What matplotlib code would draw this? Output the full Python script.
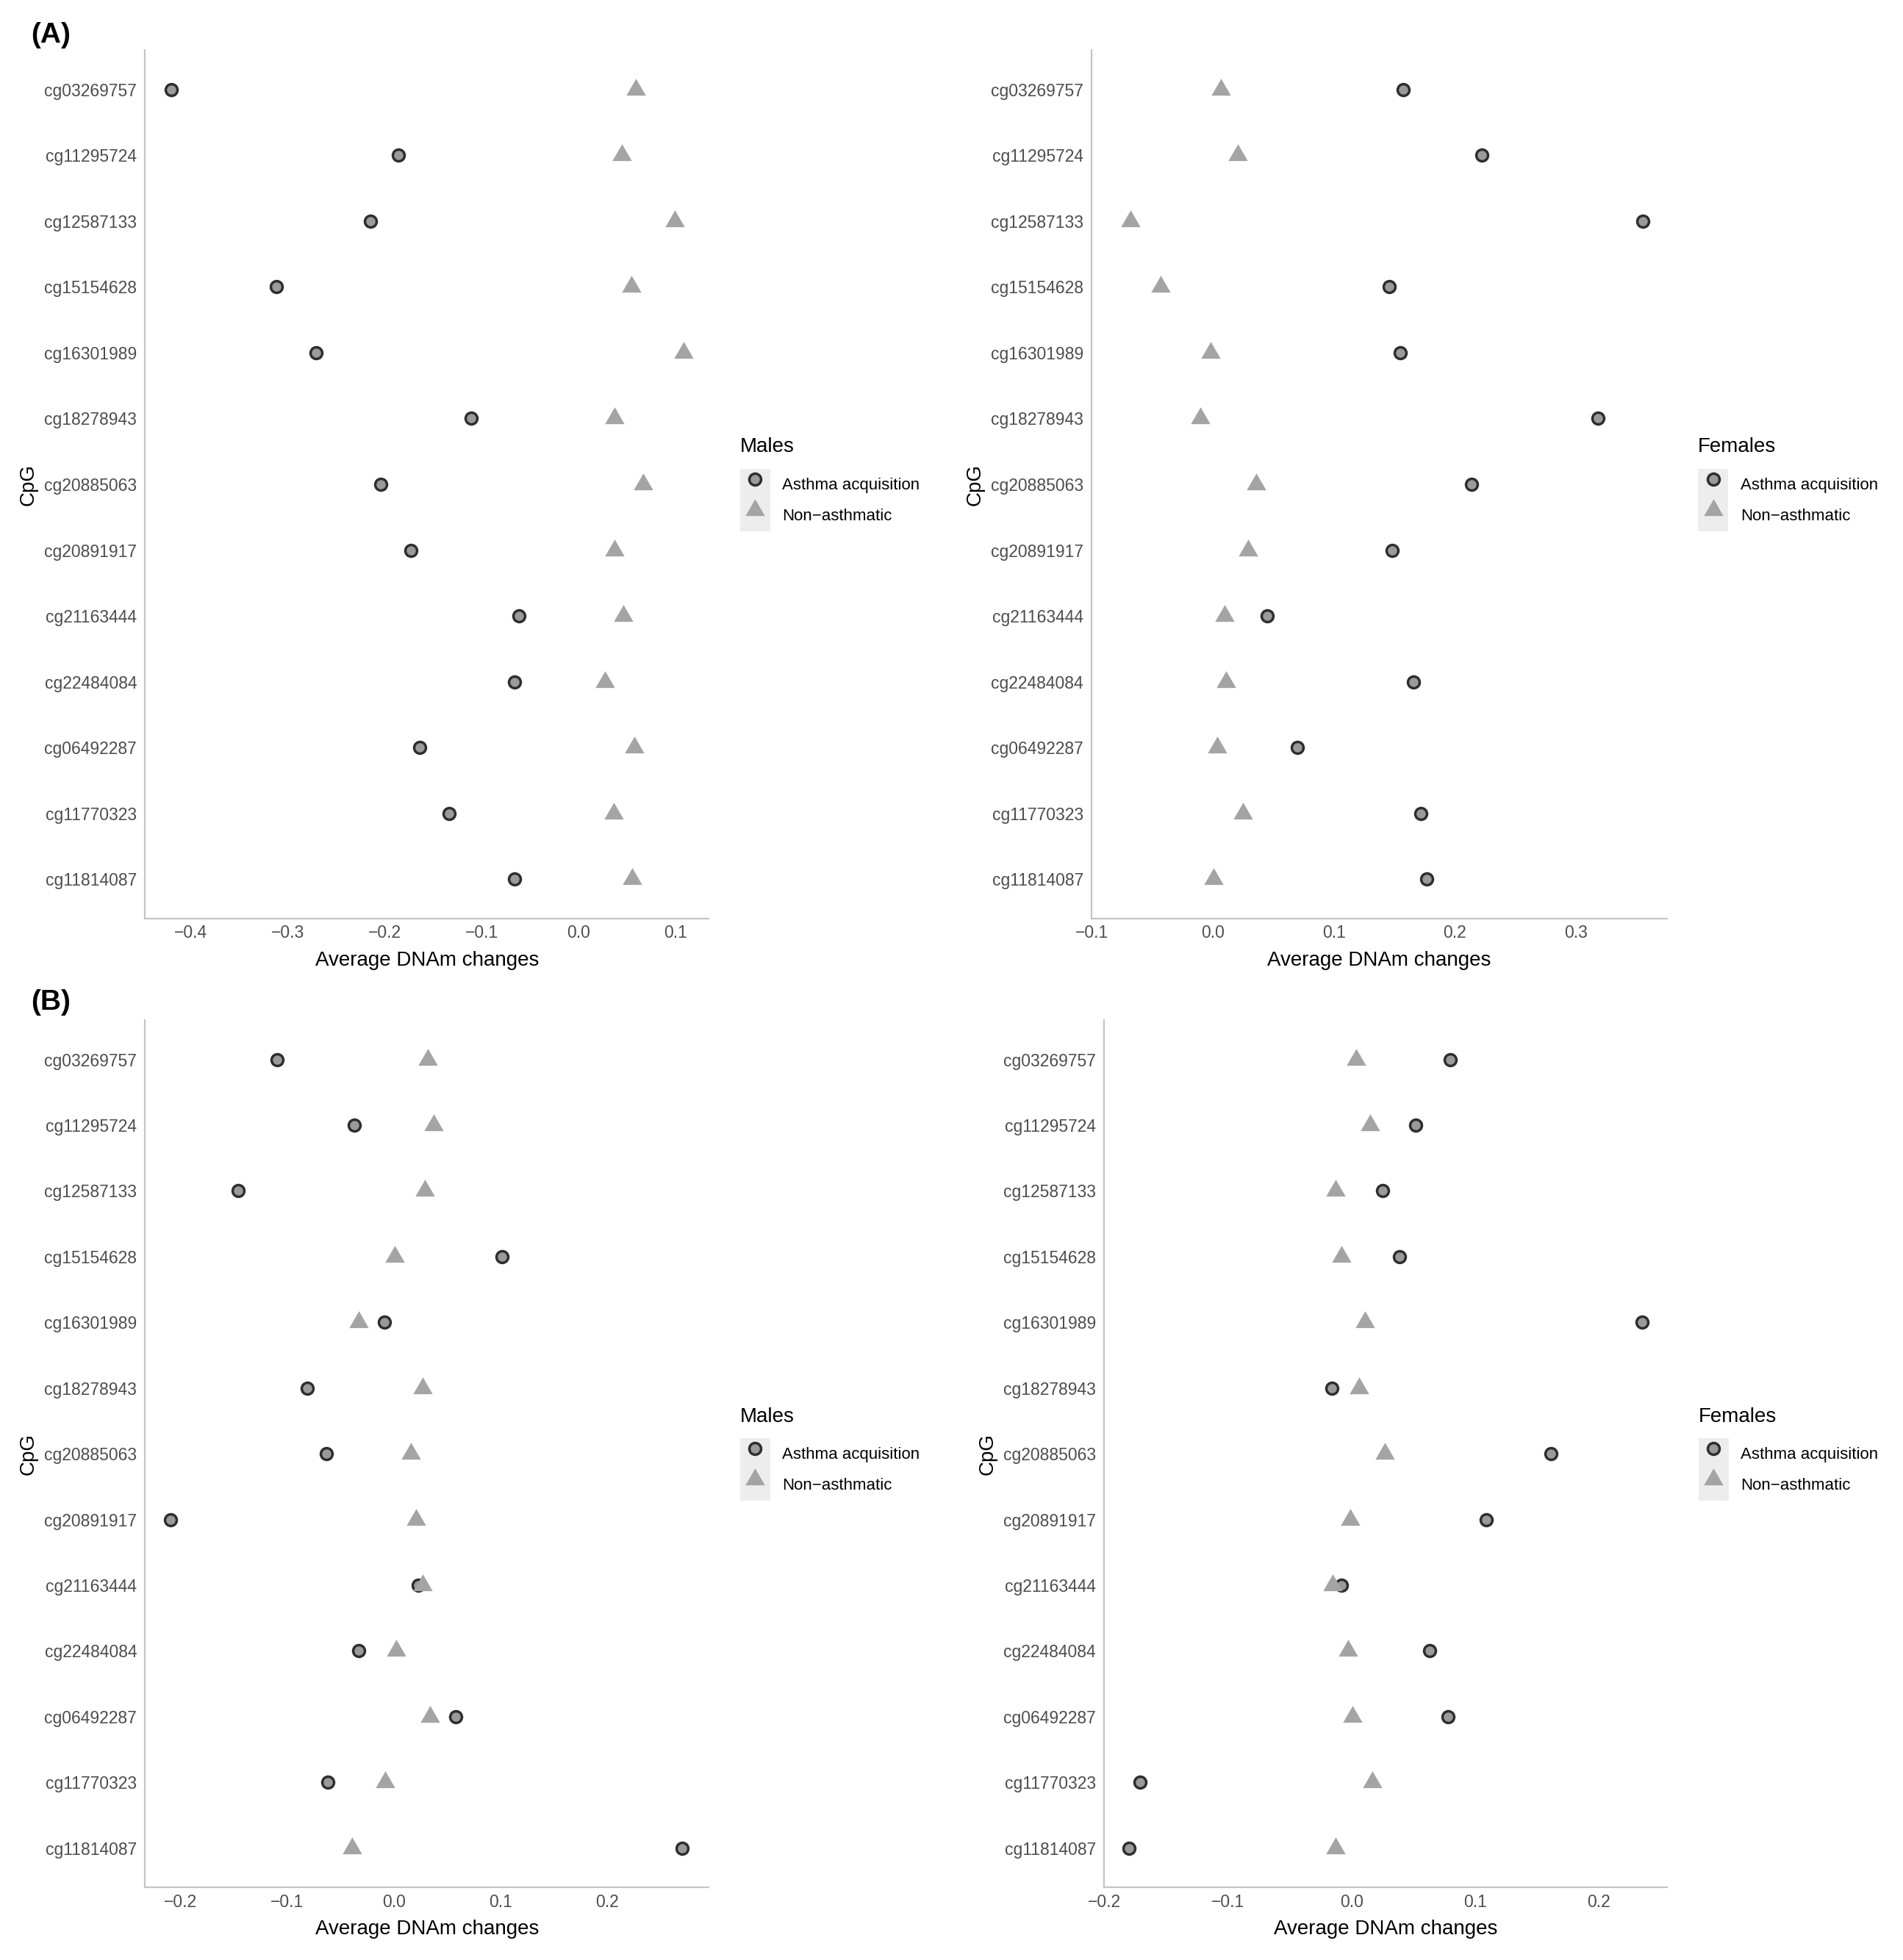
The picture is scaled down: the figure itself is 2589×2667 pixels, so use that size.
import matplotlib.pyplot as plt
from matplotlib.lines import Line2D
from matplotlib.patches import Patch
from matplotlib.legend_handler import HandlerTuple

plt.rcParams['font.family'] = ['Liberation Sans', 'DejaVu Sans']

cpgs = ["cg03269757", "cg11295724", "cg12587133", "cg15154628", "cg16301989",
        "cg18278943", "cg20885063", "cg20891917", "cg21163444", "cg22484084",
        "cg06492287", "cg11770323", "cg11814087"]

# (A) males
a_male_asthma = [-0.420, -0.186, -0.215, -0.312, -0.271, -0.111, -0.204,
                 -0.173, -0.062, -0.066, -0.164, -0.134, -0.066]
a_male_non = [0.059, 0.044, 0.099, 0.054, 0.108, 0.037, 0.066,
              0.037, 0.046, 0.027, 0.057, 0.036, 0.055]
# (A) females
a_female_asthma = [0.157, 0.222, 0.355, 0.146, 0.155, 0.318, 0.214,
                   0.148, 0.045, 0.166, 0.070, 0.172, 0.177]
a_female_non = [0.007, 0.021, -0.068, -0.043, -0.002, -0.010, 0.036,
                0.029, 0.010, 0.011, 0.004, 0.025, 0.001]
# (B) males
b_male_asthma = [-0.109, -0.037, -0.146, 0.101, -0.009, -0.081, -0.063,
                 -0.209, 0.023, -0.033, 0.058, -0.062, 0.270]
b_male_non = [0.032, 0.037, 0.029, 0.001, -0.033, 0.027, 0.016,
              0.021, 0.027, 0.002, 0.034, -0.008, -0.039]
# (B) females
b_female_asthma = [0.080, 0.052, 0.025, 0.039, 0.235, -0.016, 0.161,
                   0.109, -0.008, 0.063, 0.078, -0.171, -0.180]
b_female_non = [0.004, 0.015, -0.013, -0.008, 0.011, 0.006, 0.027,
                -0.001, -0.015, -0.003, 0.001, 0.017, -0.013]

group_labels = ["Asthma acquisition", "Non\u2212asthmatic"]

TRI = [(-1, -0.577), (1, -0.577), (0, 1.155)]
circle_style = dict(marker="o", ms=11.5, mfc="#9A9A9A", mec="#2E2E2E", mew=2.5, ls="none")
tri_style = dict(marker=TRI, ms=22, mfc="#A4A4A4", mec="none", ls="none")


def draw_panel(ax, asthma, non, xlim, xticks, title, leg_x):
    ax.plot(asthma, cpgs, **circle_style)
    ax.plot(non, cpgs, **tri_style)
    ax.set_ylim(len(cpgs) - 0.4, -0.6)
    ax.set_xlim(*xlim)
    ax.set_xticks(xticks)
    ax.set_xticklabels([f"{t:.1f}".replace("-", "\u2212") for t in xticks])
    for s in ["top", "right"]:
        ax.spines[s].set_visible(False)
    for s in ["left", "bottom"]:
        ax.spines[s].set_color("#C4C4C4")
        ax.spines[s].set_linewidth(1.6)
    ax.tick_params(length=0, labelsize=16.5, labelcolor="#4D4D4D")
    ax.tick_params(axis="x", pad=6)
    ax.tick_params(axis="y", pad=8)
    ax.set_xlabel("Average DNAm changes", fontsize=20, labelpad=9)
    ax.set_ylabel("CpG", fontsize=20, labelpad=6)

    key = Patch(facecolor="#EDEDED", edgecolor="none")
    handles = [(key, Line2D([], [], **circle_style)),
               (key, Line2D([], [], **tri_style))]
    leg = ax.legend(handles, group_labels, title=title, title_fontsize=20,
                    fontsize=16, frameon=False, loc="center left",
                    bbox_to_anchor=(leg_x, 0.5), borderpad=0, borderaxespad=0,
                    handlelength=1.85, handleheight=2.55, handletextpad=0.75,
                    labelspacing=0, alignment="left",
                    handler_map={tuple: HandlerTuple(ndivide=1, pad=0)})
    leg._legend_box.sep = 12


fig = plt.figure(figsize=(25.89, 26.67), dpi=100)

ax1 = fig.add_axes([0.0762, 0.5313, 0.2963, 0.4432])
ax2 = fig.add_axes([0.5736, 0.5313, 0.3023, 0.4432])
ax3 = fig.add_axes([0.0762, 0.0370, 0.2963, 0.4426])
ax4 = fig.add_axes([0.5802, 0.0370, 0.2957, 0.4426])

draw_panel(ax1, a_male_asthma, a_male_non, (-0.447, 0.134),
           [-0.4, -0.3, -0.2, -0.1, 0.0, 0.1], "Males", 1.055)
draw_panel(ax2, a_female_asthma, a_female_non, (-0.1, 0.375),
           [-0.1, 0.0, 0.1, 0.2, 0.3], "Females", 1.054)
draw_panel(ax3, b_male_asthma, b_male_non, (-0.233, 0.295),
           [-0.2, -0.1, 0.0, 0.1, 0.2], "Males", 1.055)
draw_panel(ax4, b_female_asthma, b_female_non, (-0.2, 0.255),
           [-0.2, -0.1, 0.0, 0.1, 0.2], "Females", 1.056)

fig.text(25 / 1522, 1 - 28 / 1568, "(A)", fontsize=28, fontweight="bold",
         ha="left", va="center")
fig.text(25 / 1522, 1 - 802 / 1568, "(B)", fontsize=28, fontweight="bold",
         ha="left", va="center")

fig.savefig("out.png", dpi=100, facecolor="white")
